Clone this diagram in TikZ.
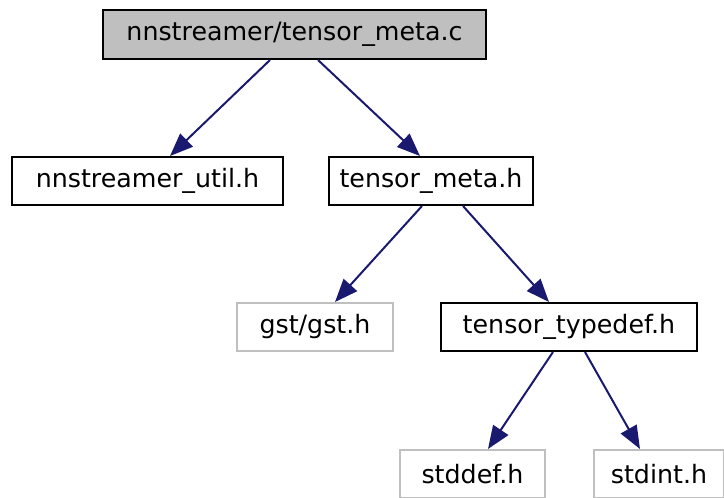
\documentclass[tikz,border=0pt]{standalone}
\usepackage{fontspec}
\setmainfont{DejaVu Sans}
\usetikzlibrary{arrows.meta}
\definecolor{edgeblue}{HTML}{191970}
\definecolor{lightgr}{HTML}{BFBFBF}
\tikzset{
  box/.style={draw=black, line width=2pt, inner sep=0pt, font=\fontsize{25.3}{30}\selectfont},
  extbox/.style={box, draw=lightgr},
  topbox/.style={box, fill=lightgr},
  edge/.style={draw=edgeblue, line width=2pt, -{Triangle[length=23pt,width=18pt]}}
}
\begin{document}
\begin{tikzpicture}[x=1pt,y=-1pt]
\useasboundingbox (0,0) rectangle (724,498);
\node[topbox, minimum width=383pt, minimum height=49pt] (A) at (294.5,34.5) {nnstreamer/tensor\_meta.c};
\node[box, minimum width=271pt, minimum height=48pt] (B) at (147.5,181) {nnstreamer\_util.h};
\node[box, minimum width=204pt, minimum height=48pt] (C) at (431,181) {tensor\_meta.h};
\node[extbox, minimum width=156pt, minimum height=48pt] (D) at (315,327) {gst/gst.h};
\node[box, minimum width=256pt, minimum height=48pt] (E) at (569,327) {tensor\_typedef.h};
\node[extbox, minimum width=145pt, minimum height=48pt] (F) at (472.5,474) {stddef.h};
\node[extbox, minimum width=130pt, minimum height=48pt] (G) at (659,474) {stdint.h};
\draw[edge] ([xshift=-24.5pt]A.south) -- ([xshift=22.5pt]B.north);
\draw[edge] ([xshift=23.5pt]A.south) -- ([xshift=-11pt]C.north);
\draw[edge] ([xshift=-9pt]C.south) -- ([xshift=20pt]D.north);
\draw[edge] ([xshift=32pt]C.south) -- ([xshift=-20pt]E.north);
\draw[edge] ([xshift=-16pt]E.south) -- ([xshift=15.5pt]F.north);
\draw[edge] ([xshift=16pt]E.south) -- ([xshift=-19pt]G.north);
\end{tikzpicture}
\end{document}
